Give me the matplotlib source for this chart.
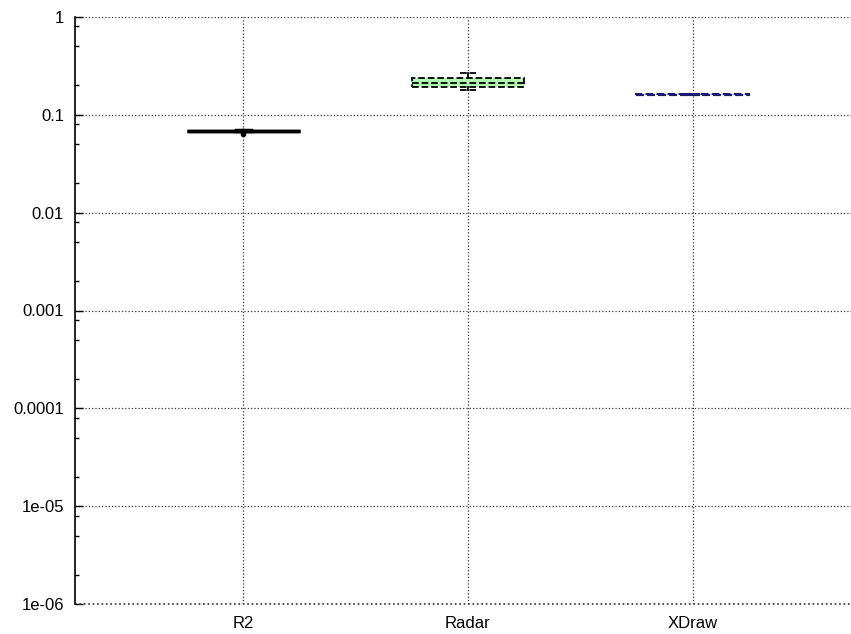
import matplotlib
matplotlib.use('Agg')
import matplotlib.pyplot as plt
from matplotlib.ticker import LogLocator, FixedLocator, FixedFormatter, NullFormatter

plt.rcParams['font.family'] = ['Liberation Sans', 'DejaVu Sans']

# box statistics
names = ['R2', 'Radar', 'XDraw']
q1 = [0.0680, 0.194, 0.158]
med = [0.0683, 0.211, 0.160]
q3 = [0.0686, 0.236, 0.162]
whislo = [0.0676, 0.179, 0.158]
whishi = [0.0692, 0.266, 0.162]
fliers = [[0.0632], [], []]

ytick_vals = [1e-6, 1e-5, 1e-4, 1e-3, 1e-2, 1e-1, 1]
ytick_labels = ['1e-06', '1e-05', '0.0001', '0.001', '0.01', '0.1', '1']

edge_colors = ['black', 'black', '#1a1a6e']
face_colors = ['black', '#b3f7b3', '#c8c8ff']
line_styles = ['-', '--', '--']
line_widths = [2.5, 1.3, 1.5]

fig = plt.figure(figsize=(8.51, 6.34), dpi=100)
ax = fig.add_axes([75/851, 30/634, 786/851, 587/634])

stats = []
for i in range(len(names)):
    stats.append(dict(label=names[i], q1=q1[i], med=med[i], q3=q3[i],
                      whislo=whislo[i], whishi=whishi[i], fliers=fliers[i]))

bp = ax.bxp(stats, positions=[1, 2, 3], widths=0.5, patch_artist=True,
            showfliers=True, capwidths=0.07, zorder=3)

for i in range(len(names)):
    box = bp['boxes'][i]
    box.set_facecolor(face_colors[i])
    box.set_edgecolor(edge_colors[i])
    box.set_linestyle(line_styles[i])
    box.set_linewidth(line_widths[i])
    bp['medians'][i].set_color(edge_colors[i])
    bp['medians'][i].set_linestyle(line_styles[i])
    bp['medians'][i].set_linewidth(line_widths[i])
    for w in bp['whiskers'][2*i:2*i+2]:
        w.set_color(edge_colors[i])
        w.set_linewidth(line_widths[i])
    for c in bp['caps'][2*i:2*i+2]:
        c.set_color(edge_colors[i])
        c.set_linestyle(line_styles[i])
        c.set_linewidth(line_widths[i])
    bp['fliers'][i].set_marker('o')
    bp['fliers'][i].set_markersize(3)
    bp['fliers'][i].set_markerfacecolor('black')
    bp['fliers'][i].set_markeredgecolor('black')

ax.set_yscale('log')
ax.set_ylim(1e-6, 1)
ax.set_xlim(0.25, 3.75)

ax.yaxis.set_major_locator(FixedLocator(ytick_vals))
ax.yaxis.set_major_formatter(FixedFormatter(ytick_labels))
ax.yaxis.set_minor_locator(LogLocator(base=10, subs=[2, 5, 8]))
ax.yaxis.set_minor_formatter(NullFormatter())
ax.tick_params(axis='y', which='major', direction='in', length=6, width=1, labelsize=12, pad=8)
ax.tick_params(axis='y', which='minor', direction='in', length=3, width=1)
ax.set_xticks([1, 2, 3])
ax.set_xticklabels(names)
ax.tick_params(axis='x', length=0, labelsize=12, pad=9)

ax.grid(True, which='major', linestyle=':', color='#333333', linewidth=0.9)
ax.axhline(1e-6, linestyle=':', color='#333333', linewidth=1.2, clip_on=False)
ax.set_axisbelow(True)

ax.spines['top'].set_visible(False)
ax.spines['right'].set_visible(False)
ax.spines['left'].set_linewidth(1.2)
ax.spines['bottom'].set_visible(False)

fig.savefig('out.png', dpi=100)
